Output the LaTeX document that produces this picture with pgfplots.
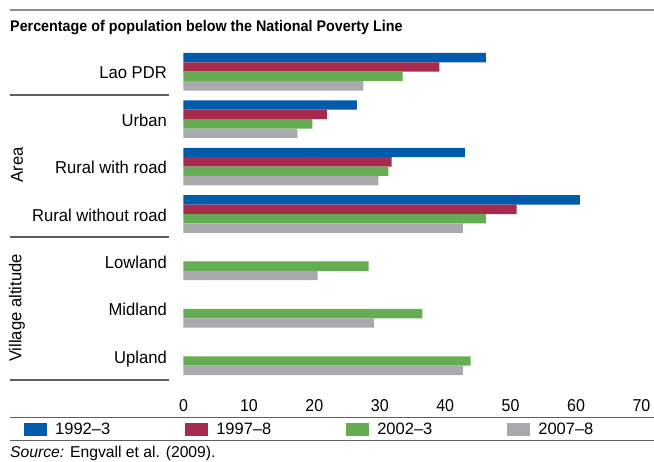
\documentclass[border=0pt]{standalone}
\usepackage{fontspec}
\setmainfont{Liberation Sans}
\newfontfamily\labfam{Liberation Sans}[FakeStretch=0.965]
\newfontfamily\numfam{Liberation Sans}[FakeStretch=0.93]
\newfontfamily\titfam{Liberation Sans}[FakeStretch=0.93]
\usepackage{pgfplots}
\pgfplotsset{compat=1.18}
\definecolor{cblue}{RGB}{0,91,170}
\definecolor{cred}{RGB}{166,43,76}
\definecolor{cgreen}{RGB}{101,173,82}
\definecolor{cgray}{RGB}{168,169,173}
\definecolor{rule}{RGB}{95,95,98}
\newcommand{\lblfont}{\labfam\fontsize{17.2}{20}\selectfont}
\newcommand{\numfont}{\numfam\fontsize{17.2}{20}\selectfont}
\newcommand{\legfont}{\fontsize{16.5}{19}\selectfont}
\begin{document}
\begin{tikzpicture}
\useasboundingbox (0pt,0pt) rectangle (654pt,-462pt);
\begin{axis}[
  at={(183.5pt,-380pt)}, anchor=south west,
  width=458pt, height=332pt, scale only axis,
  xmin=0, xmax=70, ymin=-0.5, ymax=6.5,
  xbar, bar width=9.4pt,
  axis line style={draw=none},
  major tick length=0pt,
  xtick={0,10,...,70},
  ytick={0,1,2,3,4,5,6},
  yticklabels={Upland,Midland,Lowland,Rural without road,Rural with road,Urban,Lao PDR},
  /pgf/number format/assume math mode=true,
  xticklabel style={font=\numfont, anchor=base, inner sep=0pt, yshift=-31pt},
  yticklabel style={font=\lblfont, anchor=base east, inner sep=0pt, xshift=-16.5pt, yshift=-7pt},
  legend columns=4,
  legend style={at={(-0.34825,-0.1491)}, anchor=west, draw=none, fill=none,
    inner sep=0pt, font=\legfont, cells={anchor=west},
    nodes={inner sep=0pt},
    /tikz/every odd column/.append style={column sep=8pt},
    /tikz/every even column/.append style={column sep=75pt}},
  legend image code/.code={\fill[#1] (0pt,-6.5pt) rectangle (23pt,6.5pt);},
]
\addplot[fill=cblue, draw=none, bar shift=14.1pt] coordinates {
  (46.2,6) (26.5,5) (43.0,4) (60.6,3)};
\addplot[fill=cred, draw=none, bar shift=4.7pt] coordinates {
  (39.1,6) (21.9,5) (31.8,4) (50.9,3)};
\addplot[fill=cgreen, draw=none, bar shift=-4.7pt] coordinates {
  (33.5,6) (19.7,5) (31.3,4) (46.2,3) (28.3,2) (36.5,1) (43.9,0)};
\addplot[fill=cgray, draw=none, bar shift=-14.1pt] coordinates {
  (27.5,6) (17.4,5) (29.8,4) (42.7,3) (20.5,2) (29.1,1) (42.7,0)};
\legend{1992--3,1997--8,2002--3,2007--8}
\end{axis}
% rules
\draw[line width=1.3pt, color=black!45] (10pt,-10pt) -- (654pt,-10pt);
\draw[line width=1.3pt, color=rule] (10pt,-95pt) -- (169pt,-95pt);
\draw[line width=1.3pt, color=rule] (10pt,-237pt) -- (169pt,-237pt);
\draw[line width=1.3pt, color=rule] (10pt,-380pt) -- (169pt,-380pt);
\draw[line width=1.3pt, color=rule] (10pt,-417.7pt) -- (654pt,-417.7pt);
\draw[line width=1.3pt, color=rule] (10pt,-440.7pt) -- (654pt,-440.7pt);
% texts
\node[anchor=base west, inner sep=0pt, font=\titfam\bfseries\fontsize{15.4}{18}\selectfont] at (10pt,-32pt)
  {Percentage of population below the National Poverty Line};
\node[rotate=90, font=\lblfont] at (17pt,-165pt) {Area};
\node[rotate=90, font=\lblfont] at (17pt,-308pt) {Village altitude};
\node[anchor=base west, inner sep=0pt, font=\fontsize{15.7}{18}\selectfont] at (10pt,-457.3pt)
  {\textit{Source:} Engvall et al. (2009).};
\end{tikzpicture}
\end{document}
